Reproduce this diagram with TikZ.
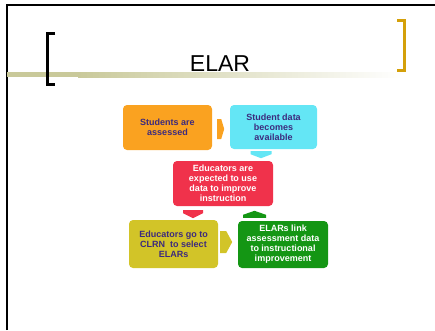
\documentclass[tikz,border=0pt]{standalone}
\usepackage{fontspec}
\setmainfont{Liberation Sans}
\usetikzlibrary{calc}
\definecolor{frameblack}{RGB}{0,0,0}
\definecolor{olivebar}{RGB}{201,201,154}
\definecolor{goldbr}{RGB}{212,160,10}
\definecolor{boxorange}{RGB}{250,162,32}
\definecolor{boxcyan}{RGB}{100,230,245}
\definecolor{boxred}{RGB}{240,50,75}
\definecolor{boxyellow}{RGB}{210,196,40}
\definecolor{boxgreen}{RGB}{20,150,20}
\definecolor{txtpurple}{RGB}{60,42,125}
\tikzset{
  box/.style={rounded corners=4pt, inner sep=0pt, align=center,
    font=\bfseries\fontsize{9}{10}\selectfont},
  darktxt/.style={text=txtpurple},
  lighttxt/.style={text=white},
}
\begin{document}
\begin{tikzpicture}[x=1pt,y=-1pt]
\useasboundingbox (0,0) rectangle (435,330);
% frame
\draw[line width=2.5pt, frameblack] (7,330) -- (7,5) -- (435,5);
% title bar
\fill[olivebar] (7,72) rectangle (78,77);
\shade[left color=olivebar, right color=white] (78,72) rectangle (402,77);
% brackets
\draw[line width=3pt, frameblack] (55,33.5) -- (47,33.5) -- (47,84.5) -- (55,84.5);
\draw[line width=3pt, goldbr] (397,20.5) -- (404.5,20.5) -- (404.5,70.5) -- (397,70.5);
% title
\node[anchor=base, font=\fontsize{23}{26}\selectfont, inner sep=0pt] (title) at (220,71) {ELAR};
% boxes
\node[box, darktxt, fill=boxorange, minimum width=89pt, minimum height=45pt] (o) at (167.5,127.5) {Students are\\assessed};
\node[box, darktxt, fill=boxcyan, minimum width=87pt, minimum height=44pt] (c) at (273.5,127) {Student data\\becomes\\available};
\node[box, lighttxt, fill=boxred, minimum width=100pt, minimum height=45pt] (r) at (223,183.5) {Educators are\\expected to use\\data to improve\\instruction};
\node[box, darktxt, fill=boxyellow, minimum width=89pt, minimum height=48pt] (y) at (173.5,244) {Educators go to\\CLRN\ \ to select\\ELARs};
\node[box, lighttxt, fill=boxgreen, minimum width=90pt, minimum height=47pt] (g) at (283,244.5) {ELARs link\\assessment data\\to instructional\\improvement};
% block arrows
\coordinate (a1) at ($(o.east)+(5,1.5)$);
\fill[boxorange] ($(a1)+(0,-10)$) -- ++(4,0) -- ++(3,10) -- ++(-3,10) -- ++(-4,0) -- cycle;
\coordinate (a2) at ($(c.south)+(-23,2)$);
\fill[boxcyan] (a2) -- ++(21,0) -- ++(0,3) -- ++(-10.5,4) -- ++(-10.5,-4) -- cycle;
\coordinate (a3) at ($(r.south)+(-40,4)$);
\fill[boxred] (a3) -- ++(20,0) -- ++(0,3) -- ++(-10,5) -- ++(-10,-5) -- cycle;
\coordinate (a4) at ($(g.north)+(-40,-3)$);
\fill[boxgreen] (a4) -- ++(23,0) -- ++(0,-3) -- ++(-11.5,-4) -- ++(-11.5,4) -- cycle;
\coordinate (a5) at ($(y.east)+(2,-2)$);
\fill[boxyellow] ($(a5)+(0,-11)$) -- ++(6,0) -- ++(6,11) -- ++(-6,11) -- ++(-6,0) -- cycle;
\end{tikzpicture}
\end{document}
